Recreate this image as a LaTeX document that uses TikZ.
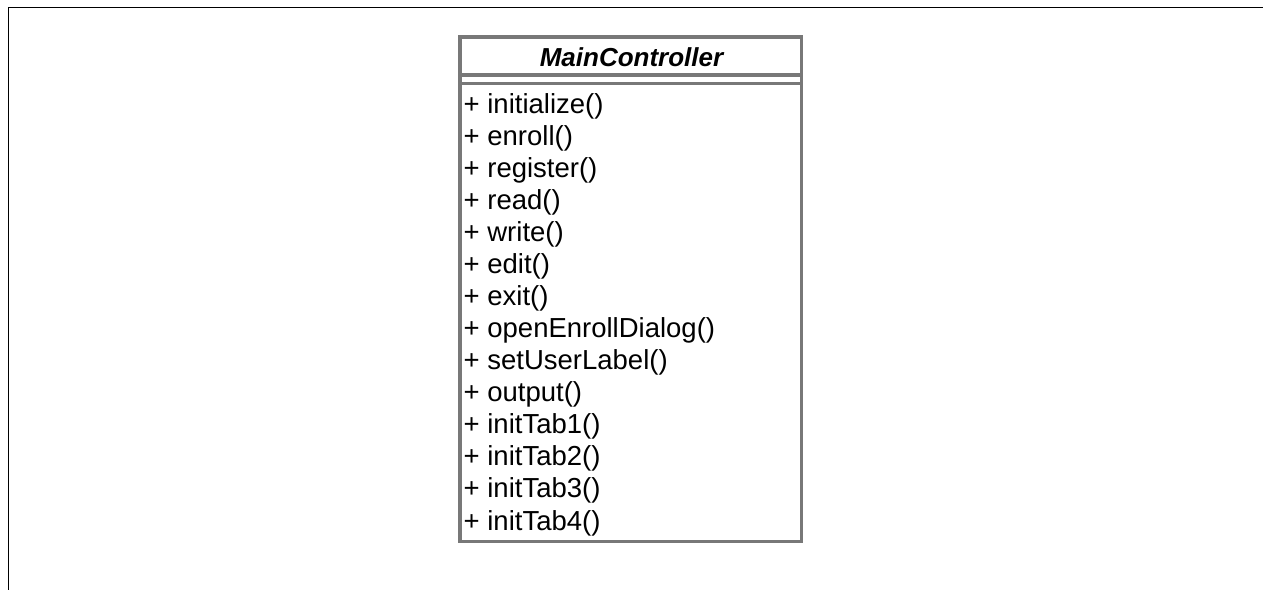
\documentclass[tikz,border=0pt]{standalone}
\usepackage{fontspec}
\setmainfont{Liberation Sans}
\definecolor{umlgray}{HTML}{787878}
\begin{document}
\begin{tikzpicture}[x=1pt,y=-1pt,
  frame/.style={draw=black, line width=1.6pt},
  classbox/.style={draw=umlgray, line width=3.5pt, inner sep=0pt, outer sep=0pt,
    minimum width=341.5pt, minimum height=504.5pt, anchor=north west},
  separator/.style={draw=umlgray, line width=3.2pt},
  classname/.style={anchor=base, inner sep=0pt,
    font=\bfseries\itshape\fontsize{26}{31}\selectfont},
  member/.style={anchor=base west, inner sep=0pt,
    font=\fontsize{27.5}{32}\selectfont}]
\useasboundingbox (0,0) rectangle (1263,590);

% page frame: top and left edges
\coordinate (frameTR) at (1263,7.3);
\coordinate (frameTL) at (8.3,7.3);
\coordinate (frameBL) at (8.3,590);
\draw[frame] (frameTR) -- (frameTL) -- (frameBL);

% class box
\node[classbox] (box) at (460,37) {};
\draw[separator] ([yshift=-38pt]box.north west) -- ([yshift=-38pt]box.north east);
\draw[separator] ([yshift=-46.5pt]box.north west) -- ([yshift=-46.5pt]box.north east);

\node[classname] (title) at (631.5,66.5) {MainController};

% operations
\foreach \op [count=\i from 0] in {initialize(), enroll(), register(), read(), write(),
    edit(), exit(), openEnrollDialog(), setUserLabel(), output(),
    initTab1(), initTab2(), initTab3(), initTab4()} {
  \node[member] (op\i) at (463.5,113.5+32.04*\i) {+ \op};
}
\end{tikzpicture}
\end{document}
